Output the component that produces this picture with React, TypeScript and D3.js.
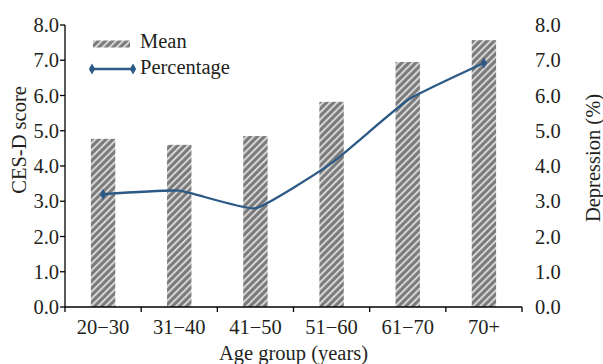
import React from "react";
import * as d3 from "d3";

const categories = ["20\u221230", "31\u221240", "41\u221250", "51\u221260", "61\u221270", "70+"];
const meanScores = [4.77, 4.6, 4.85, 5.82, 6.95, 7.57];
const depressionPct = [3.2, 3.3, 2.8, 4.08, 5.87, 6.92];
const yTicks = [0, 1, 2, 3, 4, 5, 6, 7, 8];

const W = 603, H = 364;
const M = { left: 65, right: 81, top: 25, bottom: 57 };
const FONT = "'Liberation Serif', 'Times New Roman', serif";
const TXT = "#231f20";
const LINE = "#2c5986";
const FS = 20.5;

export default function App() {
  const x = d3.scaleBand<string>().domain(categories).range([M.left, W - M.right]).paddingInner(0).paddingOuter(0);
  const y = d3.scaleLinear().domain([0, 8]).range([H - M.bottom, M.top]);
  const yR = d3.scaleLinear().domain([0, 8]).range([H - M.bottom, M.top]);
  const bw = x.bandwidth() * 0.32;
  const cx = (c: string) => (x(c) as number) + x.bandwidth() / 2;
  const line = d3.line<number>().x((_, i) => cx(categories[i])).y((d) => yR(d)).curve(d3.curveCardinal.tension(0.6));
  const diamond = d3.symbol().type(d3.symbolDiamond).size(34)();
  const y0 = y(0);
  const boundaries = categories.map((c) => x(c) as number).concat([W - M.right]);
  const first = 0, last = depressionPct.length - 1;

  return (
    <svg width={W} height={H} style={{ position: "absolute", left: 0, top: 0, background: "#fff" }} fontFamily={FONT}>
      <defs>
        <pattern id="hatch" patternUnits="userSpaceOnUse" width={5} height={5} patternTransform="rotate(45)">
          <rect width={5} height={5} fill="#7b7b7b" />
          <rect x={0} width={1.8} height={5} fill="#dedede" />
        </pattern>
      </defs>
      {categories.map((c, i) => (
        <rect key={c} x={cx(c) - bw / 2} y={y(meanScores[i])} width={bw} height={y0 - y(meanScores[i])} fill="url(#hatch)" />
      ))}
      <path d={line(depressionPct) || ""} fill="none" stroke={LINE} strokeWidth={2.3} />
      <path d={diamond || ""} transform={`translate(${cx(categories[first])},${yR(depressionPct[first])})`} fill={LINE} />
      <path d={diamond || ""} transform={`translate(${cx(categories[last])},${yR(depressionPct[last])})`} fill={LINE} />
      {/* left axis */}
      <line x1={M.left} x2={M.left} y1={M.top} y2={y0} stroke="#000" strokeWidth={1.3} />
      {yTicks.map((t) => (
        <g key={"l" + t}>
          <line x1={M.left - 5} x2={M.left} y1={y(t)} y2={y(t)} stroke="#000" strokeWidth={1.3} />
          <text x={M.left - 6} y={y(t)} dy="0.35em" textAnchor="end" fontSize={FS} fill={TXT}>{t.toFixed(1)}</text>
        </g>
      ))}
      {/* right axis labels */}
      {yTicks.map((t) => (
        <text key={"r" + t} x={W - M.right + 13} y={yR(t)} dy="0.35em" textAnchor="start" fontSize={FS} fill={TXT}>{t.toFixed(1)}</text>
      ))}
      {/* x axis */}
      <line x1={M.left} x2={W - M.right} y1={y0} y2={y0} stroke="#000" strokeWidth={1.3} />
      {boundaries.map((b, i) => (
        <line key={"b" + i} x1={b} x2={b} y1={y0} y2={y0 + 5} stroke="#000" strokeWidth={1.3} />
      ))}
      {categories.map((c) => (
        <text key={"x" + c} x={cx(c)} y={334} textAnchor="middle" fontSize={FS} fill={TXT}>{c}</text>
      ))}
      <text x={(M.left + W - M.right) / 2} y={360} textAnchor="middle" fontSize={FS} fill={TXT}>Age group (years)</text>
      <text transform={`translate(26,140) rotate(-90)`} textAnchor="middle" fontSize={FS} fill={TXT}>CES-D score</text>
      <text transform={`translate(600,158) rotate(-90)`} textAnchor="middle" fontSize={FS} fill={TXT}>Depression (%)</text>
      {/* legend */}
      <rect x={93} y={40.5} width={37} height={7} fill="url(#hatch)" />
      <text x={140} y={48} fontSize={FS} fill={TXT}>Mean</text>
      <line x1={91} x2={134} y1={69} y2={69} stroke={LINE} strokeWidth={2.3} />
      <path d={diamond || ""} transform="translate(92,69)" fill={LINE} />
      <path d={diamond || ""} transform="translate(133,69)" fill={LINE} />
      <text x={140} y={74} fontSize={FS} fill={TXT}>Percentage</text>
    </svg>
  );
}
